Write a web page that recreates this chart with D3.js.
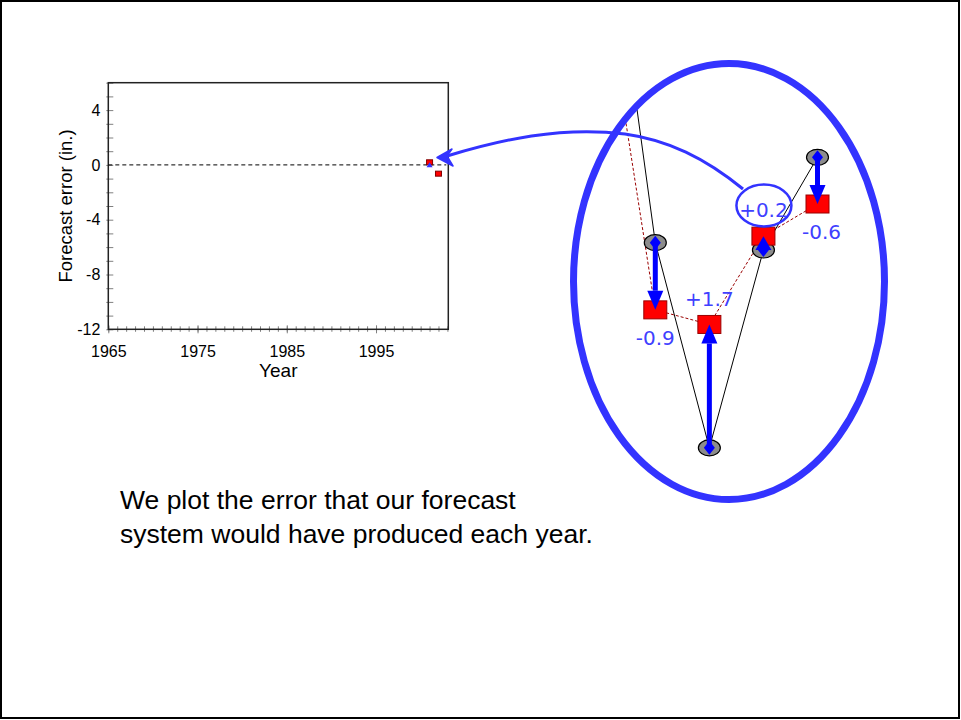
<!DOCTYPE html>
<html>
<head>
<meta charset="utf-8">
<script src="https://cdn.jsdelivr.net/npm/d3@7"></script>
<style>
  body { margin: 0; background: #fff; }
  svg { display: block; }
</style>
</head>
<body>
<div id="chart"></div>
<script>
// Zoomed panel: observed vs forecast values (in.)
const years = [1998, 1999, 2000, 2001, 2002];
const actual = [15.4, 10.0, 7.19, 9.9, 11.17];
const forecast = [13.8, 9.08, 8.88, 10.09, 10.53];

// Small chart: forecast errors plotted so far
const errorYears = [2001, 2002];
const highlightYear = 2001;

// tick labels
const xTickLabels = [1965, 1975, 1985, 1995];
const yTickLabels = [-12, -8, -4, 0, 4];

const caption = [
  "We plot the error that our forecast",
  "system would have produced each year."
];

const W = 961, H = 720;
const svg = d3.select("#chart").append("svg")
  .attr("width", W)
  .attr("height", H);

// slide frame
svg.append("rect")
  .attr("x", 1).attr("y", 1)
  .attr("width", W - 3).attr("height", H - 3)
  .attr("fill", "#fff")
  .attr("stroke", "#000")
  .attr("stroke-width", 2);

// errors = forecast - actual
const errOf = yr => {
  const i = years.indexOf(yr);
  return forecast[i] - actual[i];
};
// plain hyphen for negatives, like the original slide
const fmtErr = v => (v > 0 ? "+" : v < 0 ? "-" : "") + Math.abs(v).toFixed(1);

// ---------- small chart ----------
const plot = { left: 108.3, right: 448.3, top: 82.7, bottom: 329.3 };

const x = d3.scaleLinear()
  .domain([1965, 2003.1])
  .range([plot.left, plot.right]);

const y = d3.scaleLinear()
  .domain([-12, 6])
  .range([plot.bottom, plot.top]);

const mini = svg.append("g").style("font-family", "'Liberation Sans', Arial, sans-serif");

// minor y ticks (cross the axis)
mini.append("g")
  .attr("transform", `translate(${plot.left},0)`)
  .call(d3.axisLeft(y).tickValues(d3.range(-12, 7)).tickSize(2).tickFormat(""))
  .call(g => g.select(".domain").remove())
  .call(g => g.selectAll(".tick line").attr("x1", 5).attr("stroke", "#808080"));

// minor x ticks
mini.append("g")
  .attr("transform", `translate(0,${plot.bottom})`)
  .call(d3.axisBottom(x).tickValues(d3.range(1965, 2004)).tickSize(2.5).tickFormat(""))
  .call(g => g.select(".domain").remove())
  .call(g => g.selectAll(".tick line").attr("y1", -3).attr("stroke", "#808080"));

// major x ticks + labels
mini.append("g")
  .attr("transform", `translate(0,${plot.bottom})`)
  .call(d3.axisBottom(x).tickValues(xTickLabels).tickSize(4).tickFormat(d => String(d)))
  .call(g => g.select(".domain").remove())
  .call(g => g.selectAll(".tick line").attr("y1", -4).attr("stroke", "#808080"))
  .call(g => g.selectAll(".tick text")
    .attr("y", 16)
    .attr("fill", "#000")
    .style("font-size", "16px")
    .style("font-family", "'Liberation Sans', Arial, sans-serif"));

// y labels
mini.append("g")
  .attr("transform", `translate(${plot.left},0)`)
  .call(d3.axisLeft(y).tickValues(yTickLabels).tickSize(0).tickPadding(8).tickFormat(d => String(d)))
  .call(g => g.select(".domain").remove())
  .call(g => g.selectAll(".tick text")
    .attr("fill", "#000")
    .style("font-size", "16px")
    .style("font-family", "'Liberation Sans', Arial, sans-serif"));

// plot frame
mini.append("rect")
  .attr("x", plot.left).attr("y", plot.top)
  .attr("width", plot.right - plot.left)
  .attr("height", plot.bottom - plot.top)
  .attr("fill", "none")
  .attr("stroke", "#222")
  .attr("stroke-width", 1.5);

// zero line
mini.append("line")
  .attr("x1", plot.left).attr("x2", plot.right - 2)
  .attr("y1", y(0)).attr("y2", y(0))
  .attr("stroke", "#000")
  .attr("stroke-width", 1)
  .attr("stroke-dasharray", "4,3");

// error markers
mini.selectAll(".err")
  .data(errorYears)
  .join("rect")
  .attr("class", "err")
  .attr("x", d => x(d) - 3)
  .attr("y", d => y(errOf(d)) - 2.5)
  .attr("width", 6)
  .attr("height", 5)
  .attr("fill", "#ff0000")
  .attr("stroke", "#800000")
  .attr("stroke-width", 1);

// tiny arrow head for the highlighted year
{
  const tx = x(highlightYear), tip = y(errOf(highlightYear));
  mini.append("path")
    .attr("d", `M${tx},${tip} L${tx - 3},${tip + 5} L${tx + 3},${tip + 5} Z`)
    .attr("fill", "#3333ff");
}

// axis titles
mini.append("text")
  .attr("x", (plot.left + plot.right) / 2)
  .attr("y", 377)
  .attr("text-anchor", "middle")
  .style("font-size", "19px")
  .text("Year");

mini.append("text")
  .attr("transform", `translate(72,${(plot.top + plot.bottom) / 2}) rotate(-90)`)
  .attr("text-anchor", "middle")
  .style("font-size", "18.5px")
  .text("Forecast error (in.)");

// ---------- zoomed panel ----------
const ell = { cx: 729, cy: 281.5, rx: 155.5, ry: 218 };

const px = d3.scaleLinear().domain([1999, 2002]).range([655.3, 817.5]);
const py = d3.scaleLinear().domain([10, 11]).range([242.7, 169.7]);

svg.append("defs").append("clipPath")
  .attr("id", "lens")
  .append("ellipse")
  .attr("cx", ell.cx).attr("cy", ell.cy)
  .attr("rx", ell.rx - 3).attr("ry", ell.ry - 3);

const panel = svg.append("g").attr("clip-path", "url(#lens)");

const pts = years.map((yr, i) => ({ yr, a: actual[i], f: forecast[i] }));

// observed line
panel.append("path")
  .datum(pts)
  .attr("fill", "none")
  .attr("stroke", "#000")
  .attr("stroke-width", 1)
  .attr("d", d3.line().x(d => px(d.yr)).y(d => py(d.a)));

// forecast line
panel.append("path")
  .datum(pts)
  .attr("fill", "none")
  .attr("stroke", "#990000")
  .attr("stroke-width", 1)
  .attr("stroke-dasharray", "3,2")
  .attr("d", d3.line().x(d => px(d.yr)).y(d => py(d.f)));

// observed markers
panel.selectAll(".obs")
  .data(pts)
  .join("ellipse")
  .attr("class", "obs")
  .attr("cx", d => px(d.yr))
  .attr("cy", d => py(d.a))
  .attr("rx", 11)
  .attr("ry", 8)
  .attr("fill", "#8c8c8c")
  .attr("stroke", "#000")
  .attr("stroke-width", 1.2);

// forecast markers
panel.selectAll(".fc")
  .data(pts)
  .join("rect")
  .attr("class", "fc")
  .attr("x", d => px(d.yr) - 11.5)
  .attr("y", d => py(d.f) - 9)
  .attr("width", 23)
  .attr("height", 18)
  .attr("fill", "#ff0000")
  .attr("stroke", "#990000")
  .attr("stroke-width", 1);

// arrows from observed to forecast
const shown = pts.filter(d => d.yr >= 1999);
shown.forEach(d => {
  const x0 = px(d.yr), y0 = py(d.a), y1 = py(d.f);
  const dir = Math.sign(y1 - y0);
  const len = Math.abs(y1 - y0);
  const head = Math.min(19, len);
  const base = y1 - dir * head;
  panel.append("line")
    .attr("x1", x0).attr("x2", x0)
    .attr("y1", y0).attr("y2", base)
    .attr("stroke", "#0000ff")
    .attr("stroke-width", 5);
  panel.append("path")
    .attr("d", `M${x0},${y1} L${x0 - 8},${base} L${x0 + 8},${base} Z`)
    .attr("fill", "#0000ff");
  panel.append("path")
    .attr("d", `M${x0},${y0 - 7} L${x0 + 5.5},${y0} L${x0},${y0 + 7} L${x0 - 5.5},${y0} Z`)
    .attr("fill", "#0000ff");
});

// error labels
const labelPos = {
  1999: { dx: 0, dy: 35 },
  2000: { dx: 0, dy: -18 },
  2001: { dx: 0, dy: -19 },
  2002: { dx: 4, dy: 35 }
};
panel.selectAll(".lab")
  .data(shown)
  .join("text")
  .attr("class", "lab")
  .attr("x", d => px(d.yr) + labelPos[d.yr].dx)
  .attr("y", d => py(d.f) + labelPos[d.yr].dy)
  .attr("text-anchor", "middle")
  .attr("fill", "#4040ff")
  .style("font-family", "'DejaVu Sans', sans-serif")
  .style("font-size", "20px")
  .text(d => fmtErr(d.f - d.a));

// lens outline
svg.append("ellipse")
  .attr("cx", ell.cx).attr("cy", ell.cy)
  .attr("rx", ell.rx).attr("ry", ell.ry)
  .attr("fill", "none")
  .attr("stroke", "#3333ff")
  .attr("stroke-width", 7);

// highlight circle around +0.2
svg.append("ellipse")
  .attr("cx", px(highlightYear) + 0.5)
  .attr("cy", 205.5)
  .attr("rx", 27.5)
  .attr("ry", 21)
  .attr("fill", "none")
  .attr("stroke", "#3333ff")
  .attr("stroke-width", 2.5);

// pointer back to the small chart
svg.append("path")
  .attr("d", "M743,189 C705,158 668,140 625,134 C560,126 500,140 447,156")
  .attr("fill", "none")
  .attr("stroke", "#3333ff")
  .attr("stroke-width", 3);
svg.append("path")
  .attr("d", "M437,157.5 L452,149 L447,156 L453,166 Z")
  .attr("fill", "#3333ff")
  .attr("stroke", "#3333ff")
  .attr("stroke-width", 1.5)
  .attr("stroke-linejoin", "round");

// caption
svg.append("text")
  .attr("x", 120)
  .attr("y", 509)
  .style("font-family", "'Liberation Sans', Arial, sans-serif")
  .style("font-size", "26.5px")
  .attr("fill", "#000")
  .selectAll("tspan")
  .data(caption)
  .join("tspan")
  .attr("x", 120)
  .attr("dy", (d, i) => i === 0 ? 0 : 34)
  .text(d => d);
</script>
</body>
</html>
